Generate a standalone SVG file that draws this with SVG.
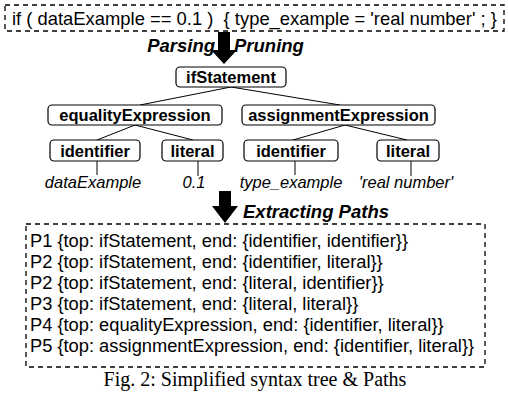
<svg xmlns="http://www.w3.org/2000/svg" width="508" height="396" viewBox="0 0 508 396">
<style>
.dash{fill:none;stroke:#000;stroke-width:1.3;stroke-dasharray:5,4}
.node rect{fill:#fff;stroke:#000;stroke-width:1.2}
.node text{font-family:"Liberation Sans",Arial,sans-serif;font-weight:bold;font-size:16.5px;text-anchor:middle}
.leaf{font-family:"Liberation Sans",Arial,sans-serif;font-style:italic;font-size:16.5px;text-anchor:middle}
.lbl{font-family:"Liberation Sans",Arial,sans-serif;font-style:italic;font-weight:bold;font-size:18.5px}
.code{font-family:"Liberation Sans",Arial,sans-serif;font-size:18.4px;white-space:pre}
.path{font-family:"Liberation Sans",Arial,sans-serif;font-size:18.3px}
.edge{stroke:#000;stroke-width:1;fill:none}
</style>
<rect class="dash" x="5" y="5" width="499" height="26"/>
<text class="code" x="12" y="25" xml:space="preserve">if ( dataExample == 0.1 )  { type_example = 'real number' ; }</text>
<polygon points="218,32 230,32 230,50 237,50 224,64 211,50 218,50" fill="#000"/>
<text class="lbl" x="215" y="52" text-anchor="end">Parsing</text>
<text class="lbl" x="234" y="52">Pruning</text>
<g id="connectors">
<line class="edge" x1="231" y1="87" x2="140" y2="105"/>
<line class="edge" x1="231" y1="87" x2="340" y2="105"/>
<line class="edge" x1="135" y1="125" x2="97" y2="140"/>
<line class="edge" x1="135" y1="125" x2="193" y2="140"/>
<line class="edge" x1="345" y1="125" x2="293" y2="140"/>
<line class="edge" x1="345" y1="125" x2="407" y2="140"/>
<line class="edge" x1="97" y1="161" x2="97" y2="175"/>
<line class="edge" x1="198" y1="161" x2="198" y2="176"/>
<line class="edge" x1="295" y1="161" x2="295" y2="175"/>
<line class="edge" x1="411" y1="161" x2="411" y2="176"/>
</g>
<g id="ifStatement" class="node"><rect x="176" y="67" width="110" height="20" rx="4"/><text x="231" y="83">ifStatement</text></g>
<g id="equalityExpression" class="node"><rect x="48" y="105" width="174" height="20" rx="4"/><text x="135" y="121">equalityExpression</text></g>
<g id="assignmentExpression" class="node"><rect x="242" y="105" width="193" height="20" rx="4"/><text x="338.5" y="121">assignmentExpression</text></g>
<g id="identifier1" class="node"><rect x="50" y="140" width="90" height="21" rx="4"/><text x="95" y="156.5">identifier</text></g>
<g id="literal1" class="node"><rect x="162" y="140" width="61" height="21" rx="4"/><text x="192.5" y="156.5">literal</text></g>
<g id="identifier2" class="node"><rect x="244" y="140" width="94" height="21" rx="4"/><text x="291" y="156.5">identifier</text></g>
<g id="literal2" class="node"><rect x="377" y="140" width="62" height="21" rx="4"/><text x="408" y="156.5">literal</text></g>
<text class="leaf" x="93" y="188">dataExample</text>
<text class="leaf" x="194" y="188">0.1</text>
<text class="leaf" x="291" y="188">type_example</text>
<text class="leaf" x="406" y="188">'real number'</text>
<polygon points="219,191 231,191 231,206 238,206 225,223 212,206 219,206" fill="#000"/>
<text class="lbl" x="243" y="218">Extracting Paths</text>
<rect class="dash" x="26" y="224" width="459" height="143"/>
<g class="path">
<text x="30" y="247">P1 {top: ifStatement, end: {identifier, identifier}}</text>
<text x="30" y="268">P2 {top: ifStatement, end: {identifier, literal}}</text>
<text x="30" y="289">P2 {top: ifStatement, end: {literal, identifier}}</text>
<text x="30" y="310">P3 {top: ifStatement, end: {literal, literal}}</text>
<text x="30" y="331">P4 {top: equalityExpression, end: {identifier, literal}}</text>
<text x="30" y="352">P5 {top: assignmentExpression, end: {identifier, literal}}</text>
</g>
<text x="255" y="386" text-anchor="middle" font-family="Liberation Serif,'Times New Roman',serif" font-size="20">Fig. 2: Simplified syntax tree &amp; Paths</text>
</svg>
